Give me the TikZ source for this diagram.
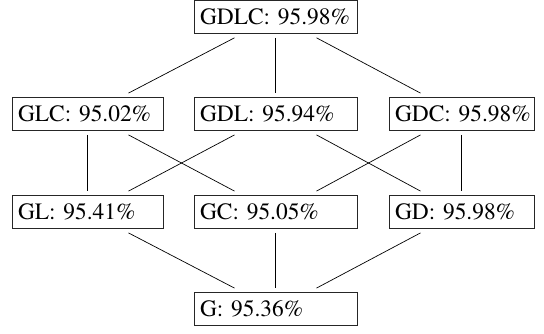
\documentclass[tikz,border=0pt]{standalone}
\usepackage[T1]{fontenc}
\begin{document}
\begin{tikzpicture}[x=1pt,y=-1pt,
  box/.style={draw=black!85, line width=0.8pt, minimum height=33pt, inner ysep=0pt, inner xsep=6pt,
    font=\fontfamily{ptm}\fontsize{23.4}{28}\selectfont, align=left, anchor=center},
  colL/.style={box, text width=139pt},
  colC/.style={box, text width=151pt},
  colR/.style={box, text width=133pt},
  link/.style={draw=black, line width=0.7pt}]
\useasboundingbox (0,0) rectangle (544,333);
\node[colC] (gdlc) at (275.5,16.9) {\mbox{GDLC: 95.98\%}};
\node[colL] (glc) at (87.5,114) {\mbox{GLC: 95.02\%}};
\node[colC] (gdl) at (275.5,114) {\mbox{GDL: 95.94\%}};
\node[colR] (gdc) at (461.5,114) {\mbox{GDC: 95.98\%}};
\node[colL] (gl) at (87.5,212) {\mbox{GL: 95.41\%}};
\node[colC] (gc) at (275.5,212) {\mbox{GC: 95.05\%}};
\node[colR] (gd) at (461.5,212) {\mbox{GD: 95.98\%}};
\node[colC] (g) at (275.5,309) {\mbox{G: 95.36\%}};
\draw[link] ([xshift=-41pt,yshift=-4pt]gdlc.south) -- ([xshift=41pt,yshift=4pt]glc.north);
\draw[link] ([yshift=-4pt]gdlc.south) -- ([yshift=4pt]gdl.north);
\draw[link] ([xshift=41pt,yshift=-4pt]gdlc.south) -- ([xshift=-41pt,yshift=4pt]gdc.north);
\draw[link] ([yshift=-4pt]glc.south) -- ([yshift=4pt]gl.north);
\draw[link] ([xshift=41pt,yshift=-4pt]glc.south) -- ([xshift=-41pt,yshift=4pt]gc.north);
\draw[link] ([xshift=-41pt,yshift=-4pt]gdl.south) -- ([xshift=41pt,yshift=4pt]gl.north);
\draw[link] ([xshift=41pt,yshift=-4pt]gdl.south) -- ([xshift=-41pt,yshift=4pt]gd.north);
\draw[link] ([xshift=-41pt,yshift=-4pt]gdc.south) -- ([xshift=41pt,yshift=4pt]gc.north);
\draw[link] ([yshift=-4pt]gdc.south) -- ([yshift=4pt]gd.north);
\draw[link] ([xshift=41pt,yshift=-4pt]gl.south) -- ([xshift=-41pt,yshift=4pt]g.north);
\draw[link] ([yshift=-4pt]gc.south) -- ([yshift=4pt]g.north);
\draw[link] ([xshift=-41pt,yshift=-4pt]gd.south) -- ([xshift=41pt,yshift=4pt]g.north);
\end{tikzpicture}
\end{document}
